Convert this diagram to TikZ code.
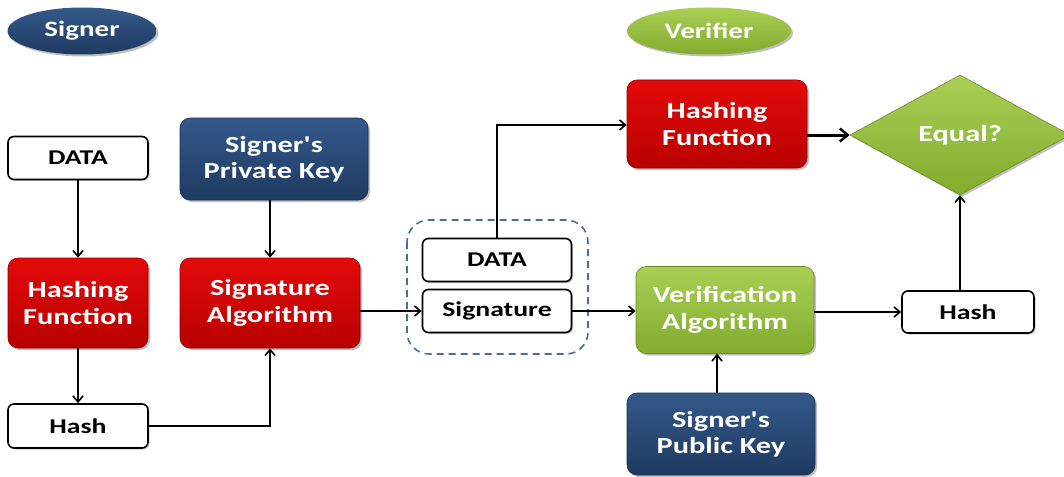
\documentclass[tikz,border=0pt]{standalone}
\usepackage{fontspec}
\setmainfont{Carlito}[Ligatures=TeXOff]
\newfontfamily\wideface{Carlito}[FakeStretch=1.32, Ligatures=TeXOff]
\usetikzlibrary{arrows.meta,shapes.geometric,shadows}
\definecolor{redA}{HTML}{E30A0A}
\definecolor{redB}{HTML}{B80000}
\definecolor{navyA}{HTML}{34598A}
\definecolor{navyB}{HTML}{1E3A60}
\definecolor{greenA}{HTML}{A9CF55}
\definecolor{greenB}{HTML}{82AC2E}
\definecolor{dashblue}{HTML}{4A6E9A}
\tikzset{
  boxbase/.style={rounded corners=10pt, inner sep=0pt, align=center,
    font=\wideface\bfseries\fontsize{23}{26.5}\selectfont, text=white,
    drop shadow={shadow xshift=2pt, shadow yshift=-2pt, opacity=0.25, fill=black}},
  redbox/.style={boxbase, top color=redA, bottom color=redB, draw=redB!80!black, line width=0.6pt},
  navybox/.style={boxbase, top color=navyA, bottom color=navyB, draw=navyB!80!black, line width=0.6pt},
  greenbox/.style={boxbase, top color=greenA, bottom color=greenB, draw=greenB!80!black, line width=0.6pt},
  whitebox/.style={rounded corners=6pt, draw=black, line width=1.6pt, fill=white, inner sep=0pt,
    font=\wideface\bfseries\fontsize{21}{25}\selectfont, text=black,
    drop shadow={shadow xshift=1.5pt, shadow yshift=-1.5pt, opacity=0.2, fill=black}},
  tagshape/.style={ellipse, inner sep=0pt, font=\wideface\bfseries\fontsize{22}{25}\selectfont, text=white,
    drop shadow={shadow xshift=2pt, shadow yshift=-2pt, opacity=0.25, fill=black}},
  flow/.style={-{Straight Barb[length=6pt,width=10pt,line width=1.6pt]}, line width=1.8pt, black},
  boldflow/.style={-{Straight Barb[length=8pt,width=13pt,line width=2.4pt]}, line width=3pt, black},
}
\begin{document}
\begin{tikzpicture}[x=1pt,y=-1pt]
\clip (0,0) rectangle (1064,476);
\fill[white] (0,0) rectangle (1064,476);

% section labels
\node[tagshape, minimum width=149pt, minimum height=47pt, top color=navyA, bottom color=navyB] (signer) at (82,31) {Signer};
\node[tagshape, minimum width=164pt, minimum height=47pt, top color=greenA, bottom color=greenB] (verifier) at (709,31) {Verifier};

% signing side
\node[whitebox, minimum width=140pt, minimum height=43pt] (data1) at (78,158) {DATA};
\node[navybox, minimum width=188pt, minimum height=82pt] (privkey) at (274,159) {Signer's\\Private Key};
\node[redbox, minimum width=140pt, minimum height=90pt] (hash1fn) at (78,303) {Hashing\\Function};
\node[redbox, minimum width=180pt, minimum height=90pt] (sigalg) at (270,303) {Signature\\Algorithm};
\node[whitebox, minimum width=140pt, minimum height=44pt] (hash1) at (78,426) {Hash};

% signed message
\draw[dashblue, line width=1.6pt, dash pattern=on 7pt off 5pt, rounded corners=22pt] (407,220) rectangle (588,354);
\node[whitebox, minimum width=149pt, minimum height=43pt] (data2) at (497,260) {DATA};
\node[whitebox, minimum width=149pt, minimum height=43pt] (sig) at (497,311) {Signature};

% verifying side
\node[redbox, minimum width=180pt, minimum height=88pt] (hash2fn) at (717,124) {Hashing\\Function};
\node[diamond, aspect=1.85, minimum width=220pt, minimum height=120pt, inner sep=0pt,
  top color=greenA, bottom color=greenB, draw=greenB!80!black, line width=0.6pt,
  text=white, font=\wideface\bfseries\fontsize{23}{26.5}\selectfont,
  drop shadow={shadow xshift=2pt, shadow yshift=-2pt, opacity=0.25, fill=black}] (equal) at (960,135) {Equal?};
\node[greenbox, minimum width=178pt, minimum height=87pt] (veralg) at (725,310) {Verification\\Algorithm};
\node[whitebox, minimum width=132pt, minimum height=42pt] (hash2) at (968,312) {Hash};
\node[navybox, minimum width=188pt, minimum height=82pt] (pubkey) at (721,434) {Signer's\\Public Key};

% connectors
\draw[flow] (data1) -- (hash1fn);
\draw[flow] (hash1fn) -- (hash1);
\draw[flow] (privkey.south -| sigalg.north) -- (sigalg.north);
\draw[flow] (hash1.east) -| (sigalg.south);
\draw[flow] (sigalg.east |- sig.west) -- (sig.west);
\draw[flow] (sig.east) -- (sig.east -| veralg.west);
\coordinate (bend) at (497,125);
\draw[flow] (data2.north) -- (bend) -- (bend -| hash2fn.west);
\draw[boldflow] (hash2fn.east |- equal.west) -- (equal.west);
\draw[flow] (veralg.east |- hash2.west) -- (hash2.west);
\draw[flow] (hash2.north -| equal.south) -- (equal.south);
\draw[flow] (pubkey.north -| 717,0) -- (veralg.south -| 717,0);
\end{tikzpicture}
\end{document}
